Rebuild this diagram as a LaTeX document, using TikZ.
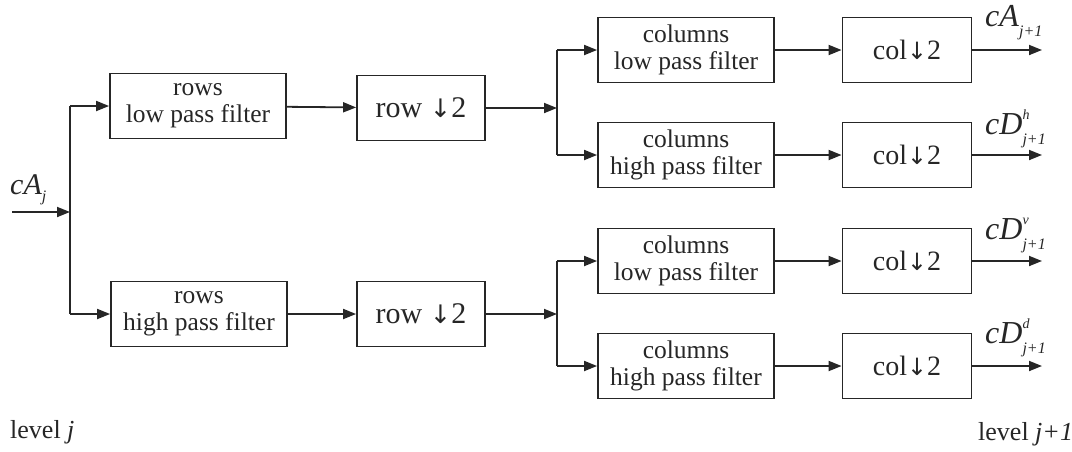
\documentclass[tikz,border=0pt]{standalone}
\usepackage{fontspec}
\setmainfont{Liberation Serif}
\newfontfamily\arrfont{DejaVu Sans}
\usetikzlibrary{arrows.meta}
\definecolor{ink}{HTML}{262626}
\newcommand\dnarr{{\arrfont\fontsize{0.85em}{1em}\selectfont ↓}}
\newcommand\olab[2]{\textit{c#1}\rlap{\raisebox{15pt}{\fontsize{14}{14}\selectfont\textit{#2}}}\raisebox{-10pt}{\fontsize{16}{16}\selectfont\textit{j+1}}}
\begin{document}
\begin{tikzpicture}[x=1pt,y=-1pt,
  fbox/.style={draw=ink, line width=1.8pt, minimum width=176pt, minimum height=65pt,
    inner sep=0pt, align=center, text=ink, font=\fontsize{25.5}{27}\selectfont},
  rbox/.style={fbox, minimum width=128pt, font=\fontsize{30}{32}\selectfont},
  cbox/.style={fbox, minimum width=129pt, font=\fontsize{28}{30}\selectfont},
  arr/.style={draw=ink, line width=1.8pt, -{Triangle[length=13pt,width=10pt]}},
  wire/.style={draw=ink, line width=1.8pt},
  lab/.style={anchor=base west, inner sep=0pt, text=ink, font=\fontsize{32}{34}\selectfont},
  lvl/.style={anchor=base west, inner sep=0pt, text=ink, font=\fontsize{26}{28}\selectfont}]
\useasboundingbox (0,0) rectangle (1072,451);

% stage 1: rows filters
\node[fbox] (rowsL) at (198,106) {rows\\low pass filter};
\node[fbox] (rowsH) at (199,314) {rows\\high pass filter};
% stage 2: row downsampling
\node[rbox] (rowD1) at (421,108) {row \dnarr2};
\node[rbox] (rowD2) at (421,314) {row \dnarr2};
% stage 3: column filters
\node[fbox] (colL1) at (686,50) {columns\\low pass filter};
\node[fbox] (colH1) at (686,155) {columns\\high pass filter};
\node[fbox] (colL2) at (686,261) {columns\\low pass filter};
\node[fbox] (colH2) at (686,366) {columns\\high pass filter};
% stage 4: column downsampling
\node[cbox] (cd1) at (907,50) {col\dnarr2};
\node[cbox] (cd2) at (907,155) {col\dnarr2};
\node[cbox] (cd3) at (907,261) {col\dnarr2};
\node[cbox] (cd4) at (907,366) {col\dnarr2};

% junctions and free ends
\coordinate (in) at (12,212);
\coordinate (j0) at (70,212);
\coordinate (j1) at (557,108);
\coordinate (j2) at (557,314);
\coordinate (o1) at (1042,50);
\coordinate (o2) at (1042,155);
\coordinate (o3) at (1042,261);
\coordinate (o4) at (1042,366);

% input split
\draw[arr] (in) -- (j0);
\draw[wire] (j0 |- rowsL) -- (j0 |- rowsH);
\draw[arr] (j0 |- rowsL) -- (rowsL.west);
\draw[arr] (j0 |- rowsH) -- (rowsH.west);
\draw[arr] (rowsL) -- (rowD1);
\draw[arr] (rowsH) -- (rowD2);
\draw[arr] (rowD1.east) -- (j1);
\draw[arr] (rowD2.east) -- (j2);
\draw[wire] (j1 |- colL1) -- (j1 |- colH1);
\draw[wire] (j2 |- colL2) -- (j2 |- colH2);
\draw[arr] (j1 |- colL1) -- (colL1.west);
\draw[arr] (j1 |- colH1) -- (colH1.west);
\draw[arr] (j2 |- colL2) -- (colL2.west);
\draw[arr] (j2 |- colH2) -- (colH2.west);
\draw[arr] (colL1) -- (cd1);
\draw[arr] (colH1) -- (cd2);
\draw[arr] (colL2) -- (cd3);
\draw[arr] (colH2) -- (cd4);
\draw[arr] (cd1.east) -- (o1);
\draw[arr] (cd2.east) -- (o2);
\draw[arr] (cd3.east) -- (o3);
\draw[arr] (cd4.east) -- (o4);

% labels
\node[lvl] (la) at (10,194) {\fontsize{30}{32}\selectfont\textit{cA}\raisebox{-7pt}{\fontsize{16}{16}\selectfont\textit{j}}};
\node[lab] (l1) at (985,26) {\olab{A}{}};
\node[lab] (l2) at (985,134) {\olab{D}{h}};
\node[lab] (l3) at (985,239) {\olab{D}{v}};
\node[lab] (l4) at (985,343) {\olab{D}{d}};
\node[lvl] (lv1) at (10,438) {level \textit{j}};
\node[lvl] (lv2) at (978,440) {level \textit{j+1}};
\end{tikzpicture}
\end{document}
